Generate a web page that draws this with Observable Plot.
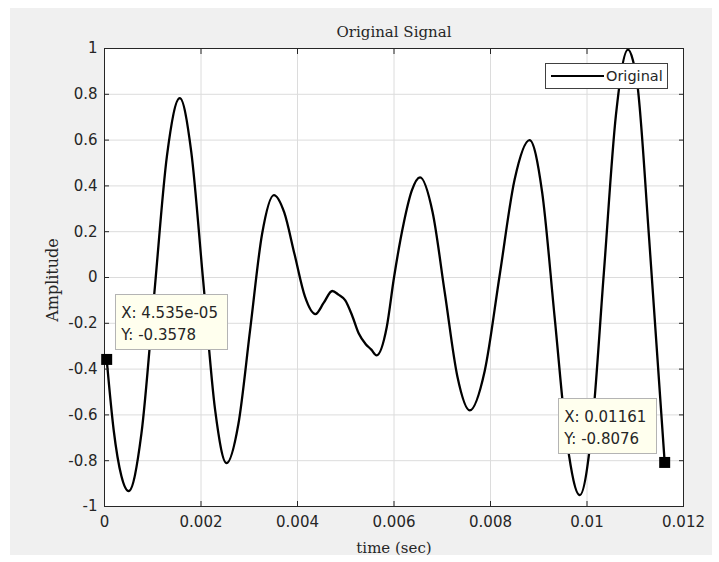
<!DOCTYPE html>
<html>
<head>
<meta charset="utf-8">
<script src="https://cdn.jsdelivr.net/npm/d3@7"></script>
<script src="https://cdn.jsdelivr.net/npm/@observablehq/plot@0.6"></script>
<style>
  html, body { margin: 0; padding: 0; background: #ffffff; }
  #wrap { position: relative; width: 719px; height: 562px; overflow: hidden; }
  #panel { position: absolute; left: 10px; top: 8px; width: 702px; height: 547px; background: #f0f0f0; }
  #chart { position: absolute; left: 0; top: 0; }
  .serif { position: absolute; font-family: "DejaVu Serif", serif; font-size: 15px; color: #262626; white-space: nowrap; }
  .tipbox { position: absolute; box-sizing: border-box; background: #ffffee; border: 1px solid #b4b4b4;
            font-family: "DejaVu Sans", sans-serif; font-size: 15px; color: #262626; line-height: 22px;
            padding: 7px 0 0 5px; white-space: nowrap; }
  .legend { position: absolute; box-sizing: border-box; background: #ffffff; border: 1px solid #404040;
            font-family: "DejaVu Sans", sans-serif; font-size: 14.5px; color: #262626; }
</style>
</head>
<body>
<div id="wrap">
  <div id="panel"></div>
  <div id="chart"></div>
</div>
<script>
// ---- data ----
const time = [0.0000454, 0.00019, 0.00035, 0.00050,
  0.000765, 0.00103, 0.001295, 0.00156,
  0.0017975, 0.002045, 0.0022925, 0.00253,
  0.002775, 0.00302, 0.003265, 0.00351,
  0.003725, 0.00394, 0.004155, 0.00437,
  0.004545, 0.00472,
  0.00485, 0.00499, 0.00513, 0.00527, 0.00541, 0.00553, 0.00564,
  0.00585, 0.0060, 0.0062, 0.00637, 0.00654,
  0.0068, 0.007055, 0.0073125, 0.00757,
  0.00788, 0.00819, 0.0085, 0.00881,
  0.00907, 0.00933, 0.00959, 0.00985,
  0.0101, 0.01035, 0.0106, 0.01085,
  0.01095, 0.01104, 0.01129, 0.01161];
const amplitude = [-0.3578, -0.666, -0.867, -0.933,
  -0.682, -0.075, 0.532, 0.783,
  0.55, -0.014, -0.578, -0.811,
  -0.64, -0.2255, 0.189, 0.36,
  0.284, 0.10, -0.084, -0.16,
  -0.11, -0.059,
  -0.075, -0.10, -0.165, -0.245, -0.29, -0.315, -0.34,
  -0.216, 0.0, 0.236, 0.38, 0.437,
  0.285, -0.07, -0.431, -0.58,
  -0.408, 0.01, 0.428, 0.60,
  0.373, -0.175, -0.723, -0.95,
  -0.665, 0.0225, 0.71, 0.995,
  0.95, 0.85, 0.163, -0.8076];
const xTicks = [0, 0.002, 0.004, 0.006, 0.008, 0.01, 0.012];
const yTicks = [-1, -0.8, -0.6, -0.4, -0.2, 0, 0.2, 0.4, 0.6, 0.8, 1];
const tipX = [0.00004535, 0.01161];
const tipY = [-0.3578, -0.8076];
const tipXLabel = ["4.535e-05", "0.01161"];
const tipYLabel = ["-0.3578", "-0.8076"];
const seriesName = "Original";
const titleText = "Original Signal";
const xLabel = "time (sec)";
const yLabel = "Amplitude";

const signal = time.map((t, i) => ({t, a: amplitude[i]}));
const tips = tipX.map((x, i) => ({x, y: tipY[i]}));
const fmt = d => String(d);
const blank = () => "";

const plot = Plot.plot({
  width: 719,
  height: 562,
  marginTop: 48,
  marginRight: 36,
  marginBottom: 56,
  marginLeft: 104,
  style: {background: "transparent", fontFamily: "DejaVu Sans, sans-serif", fontSize: "15px", color: "#262626"},
  x: {domain: [0, 0.012]},
  y: {domain: [-1, 1]},
  marks: [
    Plot.frame({fill: "#ffffff"}),
    Plot.gridX(xTicks, {stroke: "#dcdcdc", strokeOpacity: 1}),
    Plot.gridY(yTicks, {stroke: "#dcdcdc", strokeOpacity: 1}),
    Plot.line(signal, {x: "t", y: "a", stroke: "#000000", strokeWidth: 2.3, curve: "monotone-x"}),
    Plot.frame({stroke: "#262626", strokeWidth: 1}),
    Plot.axisX(xTicks, {anchor: "bottom", tickSize: 0, tickPadding: 10, tickFormat: fmt, label: null}),
    Plot.axisY(yTicks, {anchor: "left", tickSize: 0, tickPadding: 7, tickFormat: fmt, label: null}),
    Plot.axisX(xTicks, {anchor: "bottom", tickSize: -5, tickFormat: blank, label: null, stroke: "#262626"}),
    Plot.axisX(xTicks, {anchor: "top", tickSize: -5, tickFormat: blank, label: null, stroke: "#262626"}),
    Plot.axisY(yTicks, {anchor: "left", tickSize: -5, tickFormat: blank, label: null, stroke: "#262626"}),
    Plot.axisY(yTicks, {anchor: "right", tickSize: -5, tickFormat: blank, label: null, stroke: "#262626"}),
    Plot.dot(tips, {x: "x", y: "y", symbol: "square", r: 6.2, fill: "#000000", stroke: null})
  ]
});
document.getElementById("chart").appendChild(plot);

const wrap = document.getElementById("wrap");
const sx = plot.scale("x"), sy = plot.scale("y");

function addDiv(cls, text, css) {
  const d = document.createElement("div");
  d.className = cls;
  if (text != null) d.textContent = text;
  Object.assign(d.style, css);
  wrap.appendChild(d);
  return d;
}

// title and axis labels
addDiv("serif", titleText, {left: "394px", top: "32px", transform: "translate(-50%, -50%)"});
addDiv("serif", xLabel, {left: "394px", top: "548px", transform: "translate(-50%, -50%)"});
addDiv("serif", yLabel, {left: "52px", top: "280px", fontSize: "16px", transform: "translate(-50%, -50%) rotate(-90deg)"});

// data tips
tips.forEach((p, i) => {
  const px = sx.apply(p.x), py = sy.apply(p.y);
  const w = i === 0 ? 113 : 99, h = 56;
  const left = i === 0 ? px + 9 : px - 7 - w;
  const top = i === 0 ? py - 9 - h : py - 8 - h;
  const box = addDiv("tipbox", null, {left: left + "px", top: top + "px", width: w + "px", height: h + "px"});
  const l1 = document.createElement("div"); l1.textContent = "X: " + tipXLabel[i];
  const l2 = document.createElement("div"); l2.textContent = "Y: " + tipYLabel[i];
  box.appendChild(l1); box.appendChild(l2);
});

// legend
const leg = addDiv("legend", null, {left: "545px", top: "63px", width: "123px", height: "26px"});
const sample = document.createElement("div");
Object.assign(sample.style, {position: "absolute", left: "5px", top: "11px", width: "53px", height: "2.3px", background: "#000"});
leg.appendChild(sample);
const lt = document.createElement("div");
lt.textContent = seriesName;
Object.assign(lt.style, {position: "absolute", left: "60px", top: "3px", lineHeight: "18px"});
leg.appendChild(lt);
</script>
</body>
</html>
